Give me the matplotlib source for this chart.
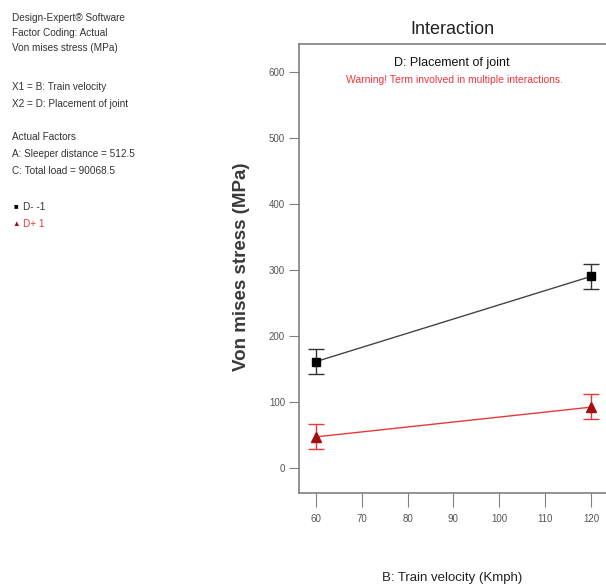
import numpy as np
import matplotlib
matplotlib.use("Agg")
from matplotlib import pyplot as plt

plt.rcParams['font.family'] = ['Liberation Sans', 'DejaVu Sans']

# data
velocity = [60, 120]
d_minus = [161, 290]
d_minus_lo = [142, 271]
d_minus_hi = [180, 309]
d_plus = [47, 92]
d_plus_lo = [29, 74]
d_plus_hi = [66, 112]

xticks = [60, 70, 80, 90, 100, 110, 120]
yticks = [0, 100, 200, 300, 400, 500, 600]

info_lines = [
    (18, "Design-Expert\u00ae Software"),
    (33, "Factor Coding: Actual"),
    (48, "Von mises stress (MPa)"),
    (87, "X1 = B: Train velocity"),
    (104, "X2 = D: Placement of joint"),
    (137, "Actual Factors"),
    (154, "A: Sleeper distance = 512.5"),
    (171, "C: Total load = 90068.5"),
]

W, H = 606, 588
fig = plt.figure(figsize=(W / 100, H / 100), dpi=100)
ax = fig.add_axes([299 / W, (H - 493) / H, 1 - 299 / W, (493 - 44) / H])

gray = '#808080'
black_line = '#444444'
red_line = '#e8383c'
red_mark = '#a01010'

# error bars
ax.errorbar(velocity, d_minus,
            yerr=[np.subtract(d_minus, d_minus_lo), np.subtract(d_minus_hi, d_minus)],
            fmt='none', ecolor='#333333', elinewidth=1, capsize=6, capthick=1)
ax.errorbar(velocity, d_plus,
            yerr=[np.subtract(d_plus, d_plus_lo), np.subtract(d_plus_hi, d_plus)],
            fmt='none', ecolor=red_line, elinewidth=1, capsize=6, capthick=1)

ax.plot(velocity, d_minus, '-', color=black_line, linewidth=1)
ax.plot(velocity, d_minus, 's', color='black', markersize=6)
ax.plot(velocity, d_plus, '-', color=red_line, linewidth=1)
ax.plot(velocity, d_plus, '^', color=red_mark, markersize=7)

ax.set_xlim(56.3, 123.3)
ax.set_ylim(-38, 642)
ax.set_xticks(xticks)
ax.set_yticks(yticks)
ax.tick_params(axis='x', direction='out', length=10, color=gray,
               labelcolor='#555555', labelsize=7, pad=5)
ax.tick_params(axis='y', direction='out', length=7, color=gray,
               labelcolor='#555555', labelsize=7, pad=3)
for s in ['left', 'top', 'bottom']:
    ax.spines[s].set_color(gray)
    ax.spines[s].set_linewidth(1.2)
ax.spines['right'].set_visible(False)

# titles
fig.text(452 / W, 1 - 30 / H, "Interaction", ha='center', va='center',
         fontsize=13, color='#222222')
fig.text(452 / W, 1 - 63 / H, "D: Placement of joint", ha='center', va='center',
         fontsize=9, color='#111111')
fig.text(454 / W, 1 - 80 / H, "Warning! Term involved in multiple interactions.",
         ha='center', va='center', fontsize=7.5, color='#ee3340')

fig.text(241 / W, 1 - 267 / H, "Von mises stress (MPa)", ha='center', va='center',
         rotation=90, fontsize=13.5, color='#3a3a3a', fontweight='bold')
fig.text(452 / W, 1 - 578 / H, "B: Train velocity (Kmph)", ha='center', va='center',
         fontsize=9.5, color='#222222')

# left info block
for yy, txt in info_lines:
    fig.text(12 / W, 1 - yy / H, txt, ha='left', va='center', fontsize=7.2,
             color='#333333')

fig.text(16 / W, 1 - 207 / H, "\u25a0", ha='center', va='center', fontsize=5.5,
         color='black')
fig.text(23 / W, 1 - 207 / H, "D- -1", ha='left', va='center', fontsize=7.2,
         color='#333333')
fig.text(16 / W, 1 - 224 / H, "\u25b2", ha='center', va='center', fontsize=5.5,
         color=red_mark)
fig.text(23 / W, 1 - 224 / H, "D+ 1", ha='left', va='center', fontsize=7.2,
         color='#e8383c')

plt.savefig('out.png', dpi=100)
plt.close(fig)
